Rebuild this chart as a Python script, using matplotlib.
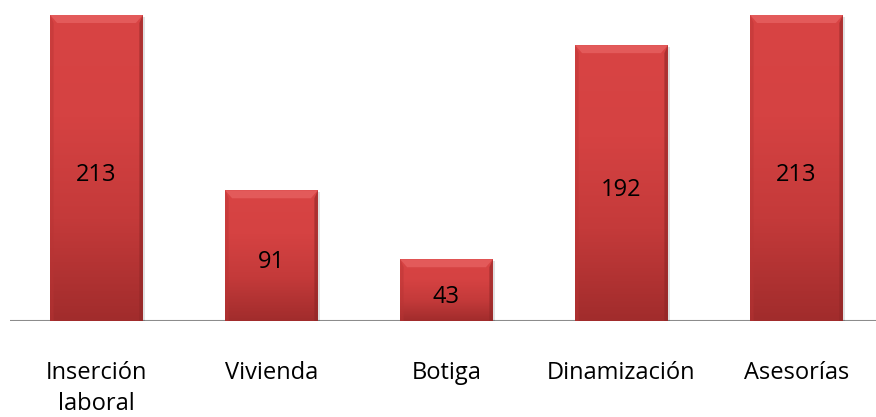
import numpy as np
import matplotlib.pyplot as plt
from matplotlib.colors import LinearSegmentedColormap
from matplotlib.patches import Polygon, Rectangle

categories = ['Inserción\nlaboral', 'Vivienda', 'Botiga', 'Dinamización', 'Asesorías']
values = [213, 91, 43, 192, 213]

plt.rcParams['font.family'] = ['Open Sans', 'DejaVu Sans']

fig = plt.figure(figsize=(8.76, 4.17), dpi=100)
ax = fig.add_axes([10/876, 96/417, 866/876, 321/417])

ytop = 213 * 321 / 306
px = ytop / 321  # data units per pixel (vertical)

x = np.arange(len(values))
w = 0.53
bars = ax.bar(x, values, width=w, color='#c63a3a', edgecolor='none', zorder=2)

# vertical gradient, lighter at top, darker at bottom
cmap = LinearSegmentedColormap.from_list('redgrad', ['#a12c2c', '#c43a3a', '#d54242', '#d84444'])
grad = np.linspace(0, 1, 256).reshape(-1, 1)
for b in bars:
    x0, y0 = b.get_x(), b.get_y()
    bw, bh = b.get_width(), b.get_height()
    # soft shadow
    ax.add_patch(Rectangle((x0 + 0.012, y0 - 2 * px), bw, bh, color='#000000',
                           alpha=0.12, lw=0, zorder=1.5))
    im = ax.imshow(grad, cmap=cmap, origin='lower', aspect='auto',
                   extent=[x0, x0 + bw, y0, y0 + bh], zorder=3)
    im.set_clip_path(b)
    # bevel: top highlight, side shading
    d = 0.04
    dy = 8 * px
    top = Polygon([[x0, y0 + bh], [x0 + bw, y0 + bh], [x0 + bw - d, y0 + bh - dy],
                   [x0 + d, y0 + bh - dy]], closed=True, color='#e35a5a', lw=0, zorder=4)
    left = Polygon([[x0, y0 + bh], [x0 + d * 0.5, y0 + bh - dy], [x0 + d * 0.5, y0],
                    [x0, y0]], closed=True, color='#b83434', alpha=0.45, lw=0, zorder=4)
    right = Polygon([[x0 + bw, y0 + bh], [x0 + bw - d * 0.5, y0 + bh - dy],
                     [x0 + bw - d * 0.5, y0], [x0 + bw, y0]], closed=True,
                    color='#8e2626', alpha=0.6, lw=0, zorder=4)
    ax.add_patch(top)
    ax.add_patch(left)
    ax.add_patch(right)
    ax.text(x0 + bw / 2, bh / 2 - 12.7 * px, str(int(bh)), ha='center', va='baseline',
            fontsize=17, color='black', zorder=5)

# category labels, one text per line so the first baseline stays put
for xi, lab in zip(x, categories):
    for k, line in enumerate(lab.split('\n')):
        ax.text(xi, (-58 - 31 * k) * px, line, ha='center', va='baseline',
                fontsize=17, clip_on=False)

ax.set_xlim(-86.5/175, (866 - 86.5)/175)
ax.set_ylim(0, ytop)
ax.axhline(0, color='#8c8c8c', lw=1.5, zorder=1)

for s in ax.spines.values():
    s.set_visible(False)
ax.set_yticks([])
ax.set_xticks([])

fig.savefig('out.png', dpi=100)
